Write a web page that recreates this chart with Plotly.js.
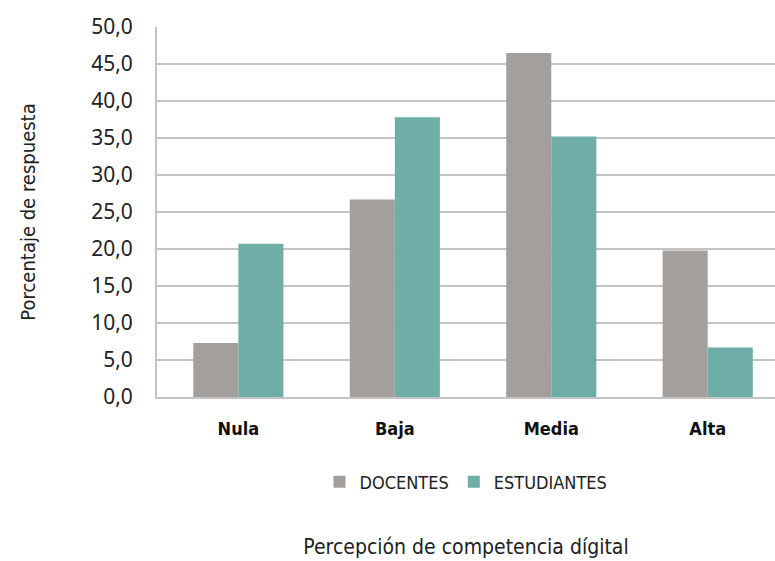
<!DOCTYPE html>
<html>
<head>
<meta charset="utf-8">
<script src="https://cdn.plot.ly/plotly-3.0.1.min.js"></script>
<style>
  html, body { margin: 0; padding: 0; background: #fff; overflow: hidden; }
  #chart { width: 775px; height: 561px; }
</style>
</head>
<body>
<div id="chart"></div>
<script>
const categories = ["Nula", "Baja", "Media", "Alta"];
const docentes = [7.3, 26.7, 46.5, 19.8];
const estudiantes = [20.7, 37.8, 35.2, 6.7];
const y_ticks = [0, 5, 10, 15, 20, 25, 30, 35, 40, 45, 50];

const narrow = "'DejaVu Sans Condensed', 'Liberation Sans Narrow', sans-serif";
const grey = "#a39f9c";
const teal = "#6faea6";
const grid_color = "#c4c4c4";

const data = [
    {
        type: "bar",
        name: "DOCENTES",
        x: categories,
        y: docentes,
        marker: { color: grey },
    },
    {
        type: "bar",
        name: "ESTUDIANTES",
        x: categories,
        y: estudiantes,
        marker: { color: teal },
    },
];

const layout = {
    width: 775,
    height: 561,
    margin: { l: 157, r: 0, t: 27, b: 164 },
    paper_bgcolor: "#fff",
    plot_bgcolor: "#fff",
    separators: ",.",
    barmode: "group",
    bargap: 0.424,
    bargroupgap: 0,
    xaxis: {
        type: "category",
        range: [-0.52, 3.43],
        showgrid: false,
        showline: true,
        linecolor: grid_color,
        linewidth: 2,
        ticks: "",
        ticklabelstandoff: 14,
        tickfont: { family: narrow, size: 18, color: "#111", weight: "bold" },
        title: {
            text: "Percepción de competencia dígital",
            font: { family: narrow, size: 21, color: "#222" },
            standoff: 102,
        },
    },
    yaxis: {
        range: [0, 50],
        tickvals: y_ticks,
        tickformat: ".1f",
        showgrid: true,
        gridcolor: grid_color,
        gridwidth: 2,
        showline: true,
        linecolor: grid_color,
        linewidth: 2,
        zeroline: false,
        ticks: "",
        ticklabelstandoff: 18,
        tickfont: { family: "'Noto Sans', sans-serif", size: 21, color: "#222" },
        title: {
            text: "Porcentaje de respuesta",
            font: { family: narrow, size: 20, color: "#222" },
            standoff: 50,
        },
    },
    showlegend: true,
    legend: {
        orientation: "h",
        x: 0.5,
        xanchor: "center",
        y: -0.23,
        yanchor: "middle",
        font: { family: narrow, size: 18, color: "#222" },
        itemwidth: 30,
        traceorder: "normal",
    },
};

const config = { displayModeBar: false, staticPlot: true };
Plotly.newPlot("chart", data, layout, config);
</script>
</body>
</html>
